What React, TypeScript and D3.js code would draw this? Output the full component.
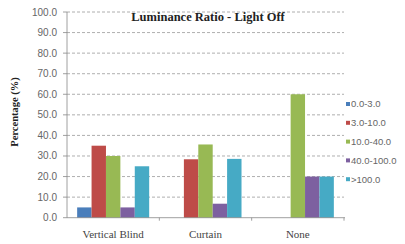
import * as d3 from "d3";

const categories = ["Vertical Blind", "Curtain", "None"];
const seriesNames = ["0.0-3.0", "3.0-10.0", "10.0-40.0", "40.0-100.0", ">100.0"];
const low = [5, 0, 0];
const mid = [35, 28.4, 0];
const high = [30, 35.6, 60];
const veryHigh = [5, 6.8, 20];
const extreme = [25, 28.6, 20];
const yTicks = [0, 10, 20, 30, 40, 50, 60, 70, 80, 90, 100];

const series = [low, mid, high, veryHigh, extreme];
const colors = ["#4a7ebb", "#be4b48", "#98b954", "#7d60a0", "#46aac5"];

export default function App() {
  const width = 405;
  const height = 244;
  const left = 67;
  const right = 344;
  const top = 12;
  const bottom = 217.7;

  const x0 = d3.scaleBand<string>().domain(categories).range([left, right]).paddingInner(0.22).paddingOuter(0.11);
  const x1 = d3.scaleBand<number>().domain(d3.range(seriesNames.length)).range([0, x0.bandwidth()]);
  const y = d3.scaleLinear().domain([0, 100]).range([bottom, top]);
  const fmt = d3.format(".1f");

  return (
    <svg width={width} height={height} style={{ position: "absolute", left: 0, top: 0, background: "#fff" }}>
      {/* gridlines */}
      {yTicks.filter((t) => t > 0).map((t) => (
        <line key={t} x1={left} x2={right} y1={y(t)} y2={y(t)} stroke="#9a9a9a" strokeWidth={0.8} strokeDasharray="3,2" />
      ))}
      {/* y ticks and labels */}
      {yTicks.map((t) => (
        <g key={t}>
          <line x1={left - 4} x2={left} y1={y(t)} y2={y(t)} stroke="#888" strokeWidth={0.8} />
          <text x={left - 10} y={y(t)} dy="0.35em" textAnchor="end" fontFamily="Liberation Sans" fontSize={10} fill="#666">
            {fmt(t)}
          </text>
        </g>
      ))}
      {/* bars */}
      {categories.map((c, ci) => (
        <g key={c} transform={`translate(${x0(c)},0)`}>
          {series.map((s, si) =>
            s[ci] > 0 ? (
              <rect key={si} x={x1(si)} y={y(s[ci])} width={x1.bandwidth()} height={bottom - y(s[ci])} fill={colors[si]} />
            ) : null
          )}
        </g>
      ))}
      {/* axes */}
      <line x1={left} x2={left} y1={top} y2={bottom} stroke="#888" strokeWidth={0.8} />
      <line x1={left} x2={right + 1} y1={bottom} y2={bottom} stroke="#888" strokeWidth={0.8} />
      {categories.map((c, i) => (
        <line key={c} x1={x0.step() * (i + 1) + left} x2={x0.step() * (i + 1) + left} y1={bottom} y2={bottom + 3} stroke="#888" strokeWidth={0.8} />
      ))}
      {categories.map((c) => (
        <text key={c} x={(x0(c) ?? 0) + x0.bandwidth() / 2} y={238} textAnchor="middle" fontFamily="Liberation Serif" fontSize={11} fill="#444">
          {c}
        </text>
      ))}
      {/* title */}
      <text x={208} y={21} textAnchor="middle" fontFamily="Liberation Serif" fontWeight="bold" fontSize={12.5} fill="#222">
        Luminance Ratio - Light Off
      </text>
      {/* y axis label */}
      <text transform="translate(18,112) rotate(-90)" textAnchor="middle" fontFamily="Liberation Serif" fontWeight="bold" fontSize={10.5} fill="#222">
        Percentage (%)
      </text>
      {/* legend */}
      {seriesNames.map((n, i) => (
        <g key={n} transform={`translate(346,${104 + i * 18.8})`}>
          <rect x={0} y={-2} width={4} height={4} fill={colors[i]} />
          <text x={5} y={0} dy="0.35em" fontFamily="Liberation Sans" fontSize={9.5} fill="#666">
            {n}
          </text>
        </g>
      ))}
    </svg>
  );
}
